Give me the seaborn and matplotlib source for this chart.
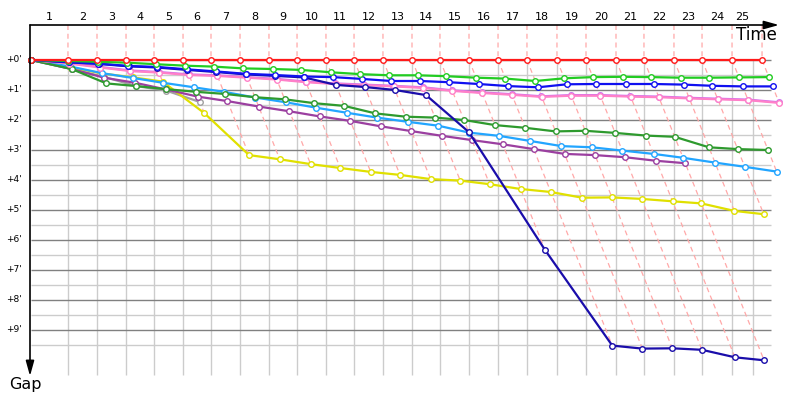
import numpy as np
import pandas as pd
import matplotlib
matplotlib.use("Agg")
import matplotlib.pyplot as plt
import seaborn as sns

# ---------------- data ----------------
lap_labels = [str(i) for i in range(1, 26)]
# leader's cumulative time (minutes) at end of each lap (lap 0 = start)
leader_time = [0, 3.08, 5.5, 7.92, 10.25, 12.67, 15.0, 17.42, 19.83, 22.17, 24.58,
               26.92, 29.33, 31.75, 34.08, 36.5, 38.92, 41.33, 43.83, 46.25, 48.75,
               51.08, 53.58, 55.92, 58.42, 60.92]
grid_end_time = 60.17

gap_red = [0.0] * 26
gap_lime = [0, 0.03, 0.06, 0.09, 0.14, 0.19, 0.22, 0.28, 0.30, 0.33, 0.41, 0.47, 0.51,
            0.51, 0.54, 0.59, 0.62, 0.70, 0.61, 0.57, 0.56, 0.57, 0.59, 0.59, 0.58, 0.57]
gap_blue = [0, 0.07, 0.12, 0.20, 0.23, 0.31, 0.38, 0.46, 0.50, 0.55, 0.57, 0.63, 0.70,
            0.70, 0.74, 0.80, 0.87, 0.91, 0.81, 0.80, 0.80, 0.80, 0.82, 0.86, 0.88, 0.88]
gap_navy = [0, 0.08, 0.13, 0.21, 0.25, 0.33, 0.40, 0.48, 0.53, 0.58, 0.83, 0.90, 1.00,
            1.17, 2.40, 6.33, 9.52, 9.62, 9.61, 9.66, 9.91, 10.01]
gap_pink = [0, 0.12, 0.25, 0.37, 0.42, 0.50, 0.53, 0.59, 0.65, 0.74, 0.80, 0.84, 0.88,
            0.93, 1.03, 1.10, 1.16, 1.23, 1.19, 1.19, 1.22, 1.24, 1.28, 1.31, 1.34, 1.43]
gap_violet = [0, 0.10, 0.23, 0.35, 0.40, 0.48, 0.51, 0.57, 0.63, 0.72, 0.78, 0.82, 0.86,
              0.91, 1.01, 1.08, 1.14, 1.21, 1.17, 1.17, 1.20, 1.22, 1.26, 1.29, 1.32, 1.41]
gap_dkgreen = [0, 0.30, 0.78, 0.87, 0.97, 1.06, 1.13, 1.24, 1.31, 1.44, 1.53, 1.78, 1.89,
               1.92, 2.00, 2.17, 2.26, 2.38, 2.36, 2.43, 2.52, 2.56, 2.91, 2.97, 3.00]
gap_sky = [0, 0.22, 0.44, 0.60, 0.76, 0.91, 1.06, 1.25, 1.41, 1.59, 1.76, 1.92, 2.06,
           2.19, 2.42, 2.53, 2.70, 2.87, 2.91, 3.02, 3.13, 3.26, 3.42, 3.56, 3.72]
gap_purple = [0, 0.30, 0.59, 0.76, 0.98, 1.22, 1.37, 1.55, 1.71, 1.88, 2.03, 2.21, 2.37,
              2.53, 2.67, 2.81, 2.97, 3.13, 3.17, 3.24, 3.36, 3.44]
gap_yellow = [0, 0.25, 0.45, 0.58, 0.72, 1.77, 3.17, 3.31, 3.47, 3.60, 3.73, 3.83, 3.97,
              4.02, 4.14, 4.30, 4.40, 4.59, 4.58, 4.63, 4.71, 4.78, 5.03, 5.14]
gap_gray = [0, 0.30, 0.56, 0.87, 1.02, 1.40]

y_ticks = list(range(0, 10))
y_tick_labels = ["+%d'" % v for v in y_ticks]

series = [  # drawing order: back to front
    ("gray", gap_gray, "#a0a0a0"),
    ("yellow", gap_yellow, "#e0e000"),
    ("purple", gap_purple, "#9b3fa0"),
    ("sky", gap_sky, "#22a5ff"),
    ("dkgreen", gap_dkgreen, "#2e9a2e"),
    ("violet", gap_violet, "#d070ee"),
    ("pink", gap_pink, "#ff80c8"),
    ("navy", gap_navy, "#1a0daa"),
    ("blue", gap_blue, "#1010f0"),
    ("lime", gap_lime, "#22cc22"),
    ("red", gap_red, "#ff1a1a"),
]

rows = []
for name, g, c in series:
    for lap, v in enumerate(g):
        rows.append({"car": name, "lap": lap, "gap": v, "time": leader_time[lap] + v})
df = pd.DataFrame(rows)

# ---------------- figure ----------------
sns.set_theme(style="white")
plt.rcParams["font.family"] = ["DejaVu Sans"]

fig = plt.figure(figsize=(8, 4), dpi=100)
ax = fig.add_axes([0, 0, 1, 1])
PXX, PXY, X0, Y0 = 12.0, 30.0, 31.0, 60.0

top_y = (25 - Y0) / PXY
right_x = (771 - X0) / PXX
bottom_grid = 10.5

# grid
for v in np.arange(0.5, 10, 1.0):
    ax.hlines(v, 0, right_x, color="#cccccc", lw=1.0, zorder=1)
for v in y_ticks:
    ax.hlines(v, 0, right_x, color="#808080", lw=1.0, zorder=1.5)
for t in leader_time[1:-1] + [grid_end_time]:
    ax.vlines(t, 0, bottom_grid, color="#cccccc", lw=1.0, zorder=1)

# lap (dashed) lines
for lap in range(1, len(leader_time)):
    gs = df.loc[df["lap"] == lap, "gap"]
    gmax = gs.max()
    T = leader_time[lap]
    ax.plot([T, T, T + gmax], [top_y, 0, gmax], color="#ffa8a8", lw=0.9,
            linestyle=(0, (4, 3)), zorder=2)

# series
for i, (name, g, c) in enumerate(series):
    sub = df[df["car"] == name]
    sns.lineplot(data=sub, x="time", y="gap", color=c, sort=False, estimator=None,
                 marker="o", ms=4.0, mfc="white", mec=c, mew=1.0, lw=1.6,
                 ax=ax, zorder=3 + i * 0.1, legend=False)
ax.set_xlim(-X0 / PXX, (800 - X0) / PXX)
ax.set_ylim((400 - Y0) / PXY, -Y0 / PXY)
ax.axis("off")

# axes arrows
ax.annotate("", xy=((779 - X0) / PXX, top_y), xytext=(-1 / PXX, top_y),
            arrowprops=dict(arrowstyle="-|>,head_length=0.9,head_width=0.25",
                            color="black", lw=1.2, mutation_scale=10,
                            shrinkA=0, shrinkB=0), zorder=6)
ax.annotate("", xy=(-1 / PXX, (376 - Y0) / PXY), xytext=(-1 / PXX, top_y),
            arrowprops=dict(arrowstyle="-|>,head_length=0.9,head_width=0.25",
                            color="black", lw=1.2, mutation_scale=10,
                            shrinkA=0, shrinkB=0), zorder=6)

ax.text((777 - X0) / PXX, (35 - Y0) / PXY, "Time", ha="right", va="center",
        fontsize=12, color="black")
ax.text((25 - X0) / PXX, (385 - Y0) / PXY, "Gap", ha="center", va="center",
        fontsize=11.5, color="black")

# lap labels between grid lines
edges = [0] + leader_time[1:-1] + [grid_end_time]
for i, lab in enumerate(lap_labels):
    ax.text((edges[i] + edges[i + 1]) / 2, (17 - Y0) / PXY, lab, ha="center",
            va="center", fontsize=8, color="black")

for v, lab in zip(y_ticks, y_tick_labels):
    ax.text((22 - X0) / PXX, v, lab, ha="right", va="center", fontsize=6.5,
            color="black")

fig.savefig("out.png", dpi=100, facecolor="white")
